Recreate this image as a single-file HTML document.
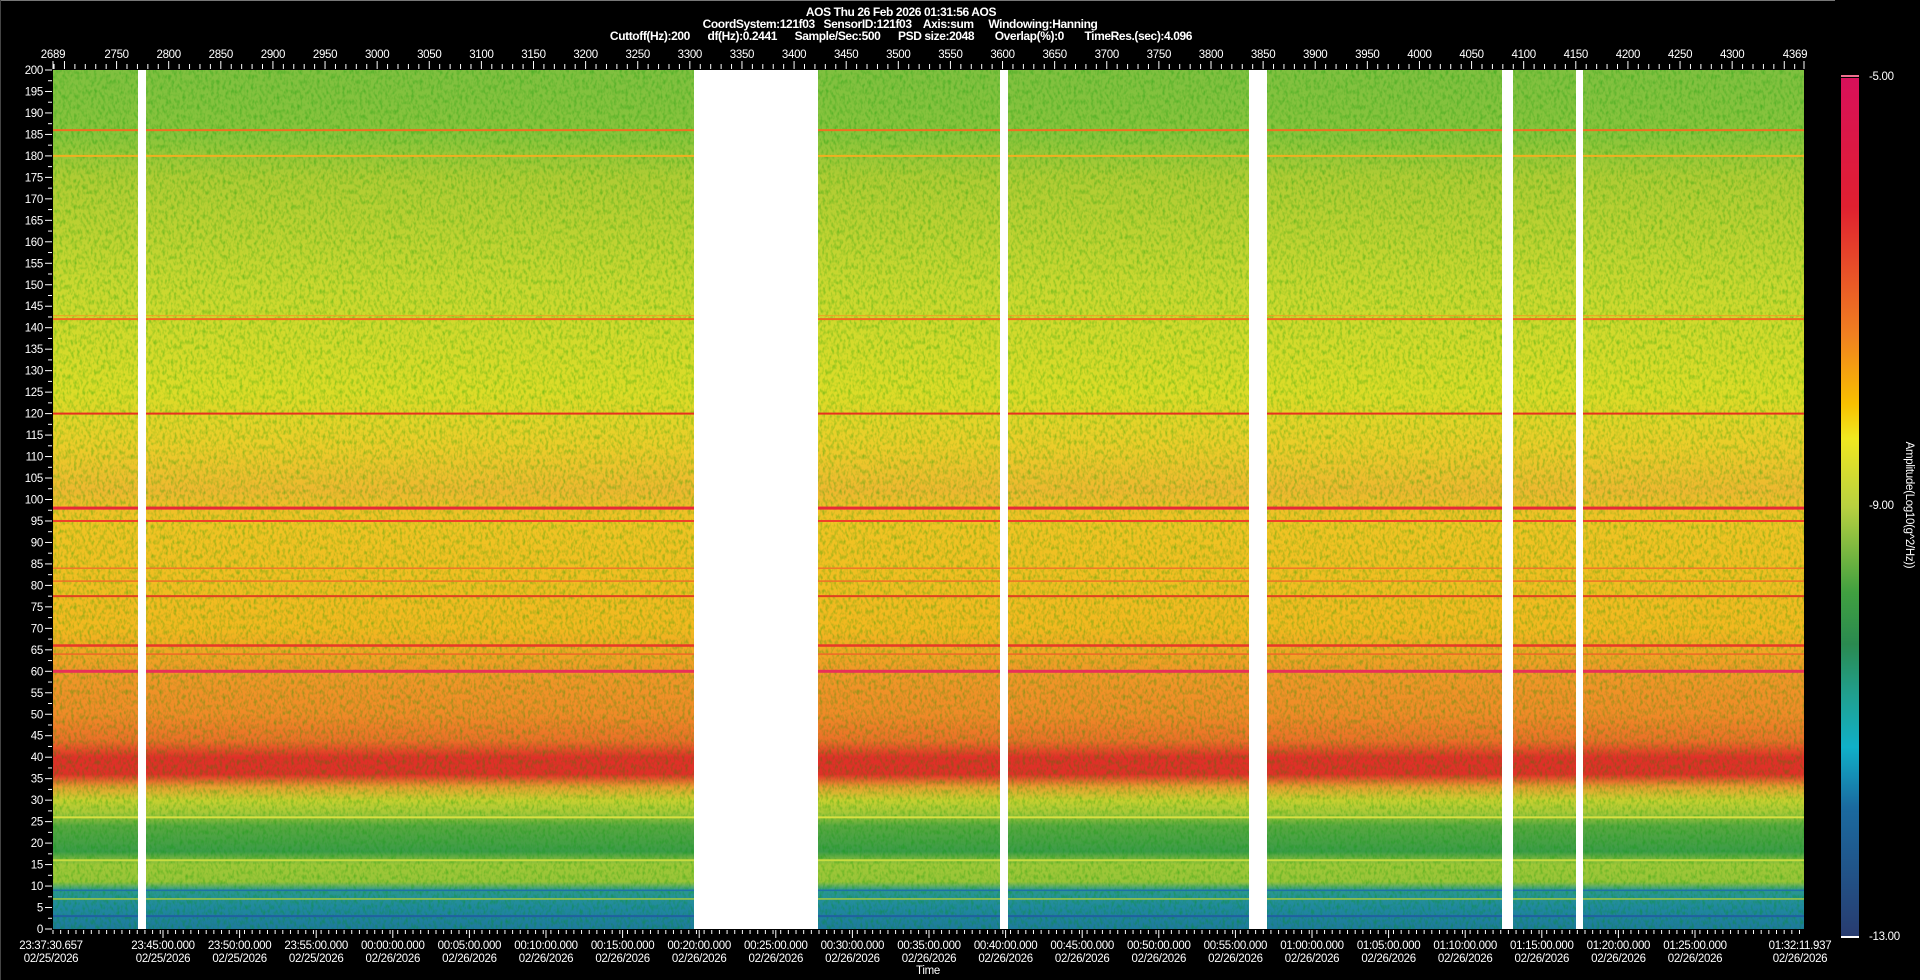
<!DOCTYPE html>
<html><head><meta charset="utf-8"><style>
html,body{margin:0;padding:0;background:#000;width:1920px;height:980px;overflow:hidden}
svg{display:block}
text{font-family:"Liberation Sans",sans-serif;fill:#fff}
.t{font-weight:bold;font-size:12px;letter-spacing:-0.4px}
.a{font-size:11.5px;letter-spacing:-0.3px}
</style></head><body>
<svg id="s" width="1920" height="980" xmlns="http://www.w3.org/2000/svg">
<defs>
<linearGradient id="sp" x1="0" y1="0" x2="0" y2="1">
<stop offset="0" stop-color="#80c040"/><stop offset=".075" stop-color="#88c43c"/>
<stop offset=".125" stop-color="#b0cc34"/><stop offset=".25" stop-color="#cad830"/>
<stop offset=".375" stop-color="#dcdc28"/><stop offset=".44" stop-color="#eccc2a"/>
<stop offset=".49" stop-color="#eeb830"/><stop offset=".525" stop-color="#f0c424"/>
<stop offset=".65" stop-color="#f2b820"/>
<stop offset=".7" stop-color="#f09828"/><stop offset=".75" stop-color="#f08a28"/>
<stop offset=".78" stop-color="#ec7028"/><stop offset=".8" stop-color="#e03028"/>
<stop offset=".82" stop-color="#e03028"/><stop offset=".835" stop-color="#e8a030"/>
<stop offset=".85" stop-color="#c8d030"/><stop offset=".865" stop-color="#a8c838"/>
<stop offset=".88" stop-color="#58a840"/><stop offset=".91" stop-color="#3c9c48"/>
<stop offset=".925" stop-color="#a0c838"/><stop offset=".945" stop-color="#98c438"/>
<stop offset=".955" stop-color="#2a9890"/><stop offset=".975" stop-color="#2088a0"/>
<stop offset="1" stop-color="#1e7a9c"/>
</linearGradient>
<linearGradient id="cb" x1="0" y1="0" x2="0" y2="1">
<stop offset="0" stop-color="#d8105a"/><stop offset=".15" stop-color="#e02030"/>
<stop offset=".3" stop-color="#f08020"/><stop offset=".38" stop-color="#f8c000"/>
<stop offset=".42" stop-color="#f0e820"/><stop offset=".5" stop-color="#b8d040"/>
<stop offset=".6" stop-color="#40a040"/><stop offset=".66" stop-color="#2a8a50"/>
<stop offset=".72" stop-color="#20a090"/><stop offset=".78" stop-color="#10b0c8"/>
<stop offset=".85" stop-color="#1a6aa0"/><stop offset="1" stop-color="#283c70"/>
</linearGradient>
<filter id="nz" x="0" y="0" width="1" height="1">
<feTurbulence type="fractalNoise" baseFrequency="0.35 0.2" numOctaves="2" seed="3"/>
<feColorMatrix values="0 0 0 0 0  0 0 0 0 0.3  0 0 0 0 0  0 0 0 -1.4 0.8"/>
<feComposite in2="SourceGraphic" operator="in"/>
</filter>
</defs>
<line x1="0" y1="0.5" x2="1835" y2="0.5" stroke="#777"/>
<line x1="0.5" y1="0" x2="0.5" y2="980" stroke="#444"/>
<text class="t" x="901" y="16" text-anchor="middle">AOS  Thu 26 Feb 2026 01:31:56  AOS</text>
<text class="t" x="900" y="28" text-anchor="middle" xml:space="preserve">CoordSystem:121f03   SensorID:121f03    Axis:sum     Windowing:Hanning</text>
<text class="t" x="901" y="40" text-anchor="middle" xml:space="preserve">Cuttoff(Hz):200      df(Hz):0.2441      Sample/Sec:500      PSD size:2048       Overlap(%):0       TimeRes.(sec):4.096</text>
<rect x="53" y="70" width="1751" height="859" fill="url(#sp)"/>
<rect x="53" y="70" width="1751" height="859" fill="#000" filter="url(#nz)" opacity="0.6"/>
<g id="lines"></g>
<g fill="#fff">
<rect x="138" y="70" width="8" height="859"/><rect x="694" y="70" width="124" height="859"/>
<rect x="1000" y="70" width="8" height="859"/><rect x="1249" y="70" width="18" height="859"/>
<rect x="1502" y="70" width="11" height="859"/><rect x="1576" y="70" width="7" height="859"/>
</g>
<g id="ax" stroke="#fff" stroke-width="1"></g>
<g id="lab" class="a"></g>
<rect x="1841" y="78" width="18" height="858" fill="url(#cb)"/>
<rect x="1841" y="75" width="18" height="2" fill="#f07090"/>
<rect x="1841" y="936" width="18" height="2" fill="#fff"/>
<text class="a" x="1869" y="80">-5.00</text>
<text class="a" x="1869" y="509">-9.00</text>
<text class="a" x="1869" y="940">-13.00</text>
<text class="a" transform="translate(1906,505) rotate(90)" text-anchor="middle">Amplitude(Log10(g^2/Hz))</text>
<text class="a" x="928" y="974" text-anchor="middle" font-size="10">Time</text>
</svg>
<script>
var NS="http://www.w3.org/2000/svg",s=document.getElementById('s');
function el(p,t,a,tx){var e=document.createElementNS(NS,t);for(var k in a)e.setAttribute(k,a[k]);if(tx!=null)e.textContent=tx;document.getElementById(p).appendChild(e);return e;}
function fy(f){return 929-4.295*f;}
[[186,'#f07020',2],[180,'#f0b020',2],[142,'#f06a20',2],[142.8,'#f0a020',1],[120,'#e83020',2],[98,'#e82838',3],[95,'#f04028',2],[84,'#f07828',1.5],[81,'#f07028',1.5],[77.5,'#e04020',2],[66,'#e83828',2.5],[64,'#f06828',1.5],[60,'#e83058',3],[26,'#d8e040',2],[16,'#c8dc40',2],[7,'#a0c840',1.5],[3,'#2060a0',2],[9,'#2070a8',1.5]].forEach(function(l){
el('lines','rect',{x:53,y:fy(l[0])-l[2]/2,width:1751,height:l[2],fill:l[1]});});
for(var f=0;f<=200;f+=2.5){var y=fy(f);var maj=f%5==0;
el('ax','line',{x1:maj?45:48,y1:y,x2:52,y2:y});
if(maj)el('lab','text',{x:43,y:y+4,'text-anchor':'end'},f);}
function xv(v){return 53+(v-2689)*1.0423;}
for(var v=2690;v<=4369;v+=10){var x=xv(v);el('ax','line',{x1:x,y1:v%50==0?61:64,x2:x,y2:69});}
el('ax','line',{x1:53,y1:61,x2:53,y2:69});el('ax','line',{x1:1804,y1:61,x2:1804,y2:69});
el('lab','text',{x:53,y:58,'text-anchor':'middle'},'2689');
for(var v=2750;v<=4300;v+=50)el('lab','text',{x:xv(v),y:58,'text-anchor':'middle'},v);
el('lab','text',{x:1795,y:58,'text-anchor':'middle'},'4369');
var times=['23:45:00.000','23:50:00.000','23:55:00.000','00:00:00.000','00:05:00.000','00:10:00.000','00:15:00.000','00:20:00.000','00:25:00.000','00:30:00.000','00:35:00.000','00:40:00.000','00:45:00.000','00:50:00.000','00:55:00.000','01:00:00.000','01:05:00.000','01:10:00.000','01:15:00.000','01:20:00.000','01:25:00.000'];
for(var x=53;x<=1804;x+=7.66){el('ax','line',{x1:x,y1:930,x2:x,y2:934});}
el('lab','text',{x:51,y:949,'text-anchor':'middle'},'23:37:30.657');
el('lab','text',{x:51,y:962,'text-anchor':'middle'},'02/25/2026');
times.forEach(function(t,i){var x=163+i*76.6;el('ax','line',{x1:x,y1:930,x2:x,y2:938});
el('lab','text',{x:x,y:949,'text-anchor':'middle'},t);
el('lab','text',{x:x,y:962,'text-anchor':'middle'},i<3?'02/25/2026':'02/26/2026');});
el('lab','text',{x:1800,y:949,'text-anchor':'middle'},'01:32:11.937');
el('lab','text',{x:1800,y:962,'text-anchor':'middle'},'02/26/2026');
</script>
</body></html>
